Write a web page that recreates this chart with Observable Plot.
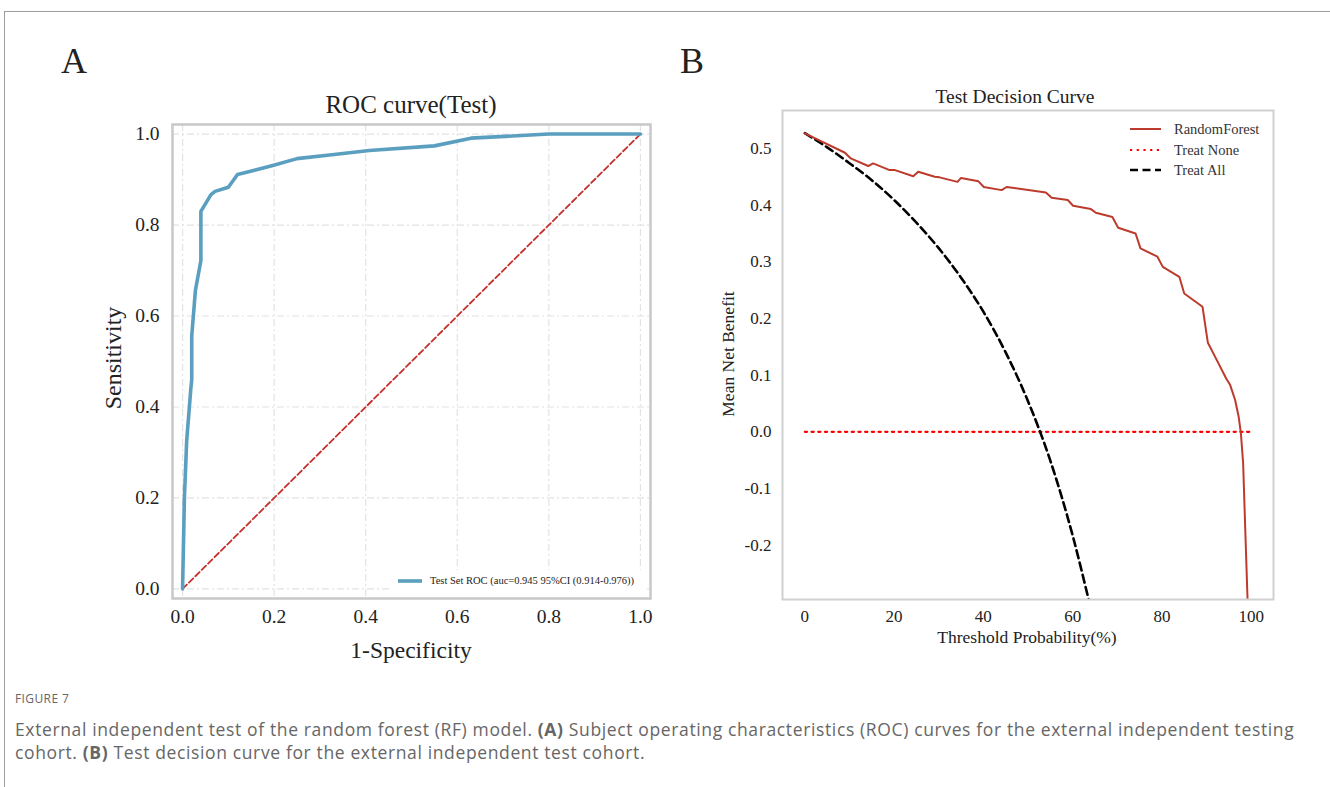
<!DOCTYPE html>
<html>
<head>
<meta charset="utf-8">
<script src="https://cdn.jsdelivr.net/npm/d3@7"></script>
<script src="https://cdn.jsdelivr.net/npm/@observablehq/plot@0.6"></script>
<style>
  html, body { margin: 0; padding: 0; background: #fff; }
  #root { position: relative; width: 1330px; height: 787px; overflow: hidden; background: #fff; }
  .abs { position: absolute; white-space: nowrap; line-height: 1; }
  .serif { font-family: "Liberation Serif", "Times New Roman", serif; color: #222; }
  .c { transform: translate(-50%, -50%); }
  .r { transform: translate(-50%, -50%) rotate(-90deg); }
  #border { position: absolute; left: 4px; top: 11px; width: 1400px; height: 900px; border: 1px solid #9c9c9c; }
  .leg { display: flex; align-items: center; }
  #caption { position: absolute; left: 15px; top: 690px; width: 1310px; font-family: "Open Sans", "Noto Sans", sans-serif; color: #666; }
  #caption .fig { font-size: 12px; letter-spacing: 0.4px; margin-bottom: 11px; }
  #caption .txt { font-size: 17.5px; line-height: 23px; letter-spacing: 0.63px; }
</style>
</head>
<body>
<div id="root">
  <div id="border"></div>
  <div id="plotA" class="abs" style="left:100px; top:80px;"></div>
  <div id="plotB" class="abs" style="left:700px; top:70px;"></div>

  <div class="abs serif" style="left:61px; top:43px; font-size:36px;">A</div>
  <div class="abs serif" style="left:680px; top:43px; font-size:36px;">B</div>

  <div class="abs serif c" style="left:411px; top:104px; font-size:25px;">ROC curve(Test)</div>
  <div class="abs serif c" style="left:411px; top:651px; font-size:23.5px;">1-Specificity</div>
  <div class="abs serif r" style="left:113px; top:358px; font-size:24px;">Sensitivity</div>

  <div class="abs serif c" style="left:1015px; top:97px; font-size:19.5px;">Test Decision Curve</div>
  <div class="abs serif c" style="left:1027px; top:638px; font-size:17.5px;">Threshold Probability(%)</div>
  <div class="abs serif r" style="left:729px; top:354px; font-size:17.5px;">Mean Net Benefit</div>

  <div id="legA" class="abs serif" style="left:390px; top:570px; width:256px; height:26px; background:#fff;"></div>
  <div id="legB" class="abs serif" style="left:1128px; top:119px;"></div>

  <div id="caption">
    <div class="fig">FIGURE 7</div>
    <div class="txt">External independent test of the random forest (RF) model. <b>(A)</b> Subject operating characteristics (ROC) curves for the external independent testing<br>cohort. <b>(B)</b> Test decision curve for the external independent test cohort.</div>
  </div>
</div>
<script>
// ---------- Panel A: ROC curve (Test) ----------
const rocFpr = [0, 0.004, 0.009, 0.018, 0.020, 0.020, 0.028, 0.040, 0.040, 0.062, 0.071, 0.100, 0.120, 0.197, 0.250, 0.331, 0.408, 0.550, 0.630, 0.800, 1.000];
const rocTpr = [0, 0.200, 0.326, 0.440, 0.460, 0.556, 0.656, 0.722, 0.830, 0.867, 0.874, 0.883, 0.911, 0.931, 0.946, 0.955, 0.964, 0.974, 0.991, 1.000, 1.000];
const chanceX = [0, 1];
const chanceY = [0, 1];
const rocTicks = [0, 0.2, 0.4, 0.6, 0.8, 1.0];
const rocLegendLabel = "Test Set ROC (auc=0.945 95%CI (0.914-0.976))";

// ---------- Panel B: Test Decision Curve ----------
const rfThreshold = [0, 9.0, 10.3, 14.2, 15.3, 19.0, 20.2, 24.3, 25.4, 29.1, 30.2, 34.2, 35.0, 38.9, 40.1, 44.1, 45.2, 54.0, 55.3, 58.9, 60.1, 64.1, 65.2, 68.9, 70.2, 74.1, 75.2, 79.0, 80.2, 83.9, 85.0, 89.1, 90.3, 92.3, 94.4, 95.3, 96.4, 97.2, 97.7, 98.2, 98.7, 99.2];
const rfBenefit   = [0.5266, 0.4924, 0.4824, 0.469, 0.4736, 0.4618, 0.4618, 0.451, 0.459, 0.450, 0.449, 0.441, 0.448, 0.442, 0.432, 0.4265, 0.432, 0.4224, 0.413, 0.409, 0.399, 0.393, 0.3865, 0.379, 0.360, 0.350, 0.3236, 0.309, 0.291, 0.2735, 0.244, 0.2206, 0.157, 0.1265, 0.094, 0.0824, 0.056, 0.0265, -0.003, -0.056, -0.179, -0.300];
const allThreshold = [0, 5, 10, 15, 20, 25, 30, 35, 40, 45, 50, 55, 60, 63.7];
const allBenefit   = [0.527, 0.502, 0.474, 0.444, 0.409, 0.369, 0.324, 0.272, 0.212, 0.140, 0.054, -0.051, -0.183, -0.300];
const noneThreshold = [0, 100];
const noneBenefit   = [0, 0];
const dcaXTicks = [0, 20, 40, 60, 80, 100];
const dcaYTicks = [-0.2, -0.1, 0.0, 0.1, 0.2, 0.3, 0.4, 0.5];
const dcaSeries = ["RandomForest", "Treat None", "Treat All"];

const rfColor = "#bd3b2d", noneColor = "#ff0000", allColor = "#000000", rocColor = "#5b9fc0";

const rocData = rocFpr.map((x, i) => ({x, y: rocTpr[i]}));
const chance = chanceX.map((x, i) => ({x, y: chanceY[i]}));
const rf = rfThreshold.map((x, i) => ({x, y: rfBenefit[i]}));
const all = allThreshold.map((x, i) => ({x, y: allBenefit[i]}));
const none = noneThreshold.map((x, i) => ({x, y: noneBenefit[i]}));

const serif = "'Liberation Serif', 'Times New Roman', serif";
const fmt1 = d => d.toFixed(1);

const plotA = Plot.plot({
  width: 570, height: 600,
  marginLeft: 72, marginRight: 20, marginTop: 44, marginBottom: 82,
  style: {fontFamily: serif, fontSize: "19px", color: "#222", background: "transparent", overflow: "visible"},
  x: {domain: [-0.022, 1.022]},
  y: {domain: [-0.021, 1.021]},
  marks: [
    Plot.gridX(rocTicks, {stroke: "#e2e2e2", strokeOpacity: 1, strokeWidth: 1.2, strokeDasharray: "7,3,2,3"}),
    Plot.gridY(rocTicks, {stroke: "#e2e2e2", strokeOpacity: 1, strokeWidth: 1.2, strokeDasharray: "7,3,2,3"}),
    Plot.line(chance, {x: "x", y: "y", stroke: "#c62f2a", strokeWidth: 1.8, strokeDasharray: "6,3"}),
    Plot.line(rocData, {x: "x", y: "y", stroke: rocColor, strokeWidth: 3.6, strokeLinejoin: "round"}),
    Plot.frame({stroke: "#c8c8c8", strokeWidth: 2.5}),
    Plot.axisX(rocTicks, {tickSize: 0, tickPadding: 11, tickFormat: fmt1, label: null, fontSize: 19.5}),
    Plot.axisY(rocTicks, {tickSize: 0, tickPadding: 13, tickFormat: fmt1, label: null, fontSize: 19.5})
  ]
});
document.getElementById("plotA").appendChild(plotA);

const plotB = Plot.plot({
  width: 600, height: 600,
  marginLeft: 82, marginRight: 27, marginTop: 40, marginBottom: 71,
  style: {fontFamily: serif, fontSize: "17px", color: "#222", background: "transparent", overflow: "visible"},
  x: {domain: [-5, 105]},
  y: {domain: [-0.296, 0.567]},
  marks: [
    Plot.line(none, {x: "x", y: "y", stroke: noneColor, strokeWidth: 2.2, strokeDasharray: "2.2,4.5", clip: true}),
    Plot.line(all, {x: "x", y: "y", stroke: allColor, strokeWidth: 2.6, strokeDasharray: "8,4.5", curve: "monotone-x", clip: true}),
    Plot.line(rf, {x: "x", y: "y", stroke: rfColor, strokeWidth: 2, clip: true}),
    Plot.frame({stroke: "#d0d0d0", strokeWidth: 2}),
    Plot.axisX(dcaXTicks, {tickSize: 0, tickPadding: 10, tickFormat: d => String(d), label: null, fontSize: 17}),
    Plot.axisY(dcaYTicks, {tickSize: 0, tickPadding: 11, tickFormat: fmt1, label: null, fontSize: 17})
  ]
});
document.getElementById("plotB").appendChild(plotB);

// Legends
const legA = document.getElementById("legA");
legA.innerHTML = `<div class="leg" style="position:absolute; left:8px; top:6px; font-size:10.5px; color:#222;">
  <svg width="24" height="6" style="margin-right:8px"><line x1="0" x2="24" y1="3" y2="3" stroke="${rocColor}" stroke-width="3.6"/></svg>${rocLegendLabel}</div>`;

const legB = document.getElementById("legB");
const styles = [
  {stroke: rfColor, w: 2, dash: ""},
  {stroke: noneColor, w: 2.2, dash: "2.2,4.5"},
  {stroke: allColor, w: 2.6, dash: "8,4.5"}
];
legB.innerHTML = dcaSeries.map((s, i) => `<div class="leg" style="height:20.5px; font-size:14.5px; color:#333;">
  <svg width="33" height="6" style="margin-right:13px"><line x1="2" x2="33" y1="3" y2="3" stroke="${styles[i].stroke}" stroke-width="${styles[i].w}" stroke-dasharray="${styles[i].dash}"/></svg>${s}</div>`).join("");
</script>
</body>
</html>
